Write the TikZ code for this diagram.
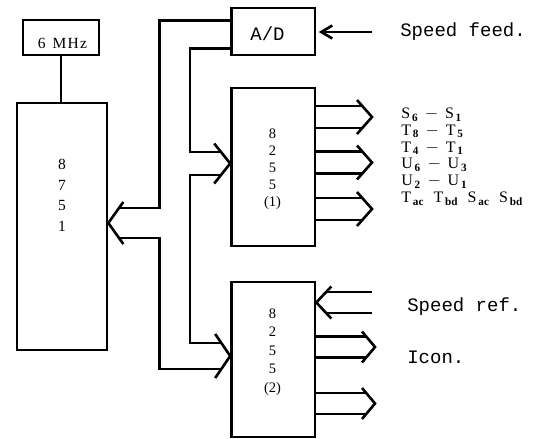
\documentclass[tikz,border=0pt]{standalone}
\usepackage{fontspec}
\setmainfont{Liberation Serif}
\newfontfamily\tyfont{Liberation Mono}
\usetikzlibrary{calc}
\begin{document}
\begin{tikzpicture}[x=1pt,y=-1pt,line width=2.6pt,line join=miter,
  box/.style={draw,rectangle,inner sep=0pt,minimum width=83.5pt},
  lbl/.style={inner sep=0pt},
  tt/.style={inner sep=0pt,anchor=west,font=\tyfont\fontsize{19}{22}\selectfont},
  sig/.style={anchor=base west,inner sep=0pt,font=\fontsize{16}{18}\selectfont}]
\useasboundingbox (0,0) rectangle (544,439);

% blocks
\node[box,minimum width=76pt,minimum height=35pt] (osc) at (61,37.5) {};
\node[lbl,font=\fontsize{15.5}{18}\selectfont] (osctxt) at (62.5,43) {6\hspace{7pt}M\kern1.2pt H\kern1.2pt z};
\node[box,minimum width=90pt,minimum height=247pt] (mcu) at (62,226.5) {};
\node[lbl,align=center,font=\fontsize{15.5}{20.5}\selectfont] (mcutxt) at (62,195.5) {8\\7\\5\\1};
\node[box,minimum height=47pt] (ad) at (273.25,31.5) {};
\node[lbl,font=\tyfont\fontsize{19}{22}\selectfont] (adtxt) at (267.5,34) {A/D};
\node[box,minimum height=158pt] (ppi1) at (273.25,167) {};
\node[lbl,align=center,font=\fontsize{14.5}{17}\selectfont] (ppi1txt) at (272.5,169) {8\\2\\5\\5\\(1)};
\node[box,minimum height=155pt] (ppi2) at (273.25,359.5) {};
\node[lbl,align=center,font=\fontsize{14.5}{18.5}\selectfont] (ppi2txt) at (272.5,352) {8\\2\\5\\5\\(2)};

% clock
\draw (osc.south) -- (osc.south |- mcu.north);

% bus
\coordinate (adA) at ($(ad.north west)+(0,14)$);
\coordinate (adB) at ($(ad.south west)+(0,-8)$);
\coordinate (tm) at ($(mcu.east)+(0,-3.5)$);
\coordinate (t1) at ($(ppi1.west)+(0,-3.5)$);
\coordinate (t2) at ($(ppi2.west)+(0,-3.5)$);
\draw (adA) -| (159.5,208) -- ($(tm)+(10.7,-15)$);
\draw ($(tm)+(10.7,15)$) -| (159.5,369) -- ($(t2)+(-8.9,13)$);
\draw (adB) -| (190,152) -- ($(t1)+(-9.2,-11.5)$);
\draw ($(t1)+(-9.2,11.5)$) -| (190,343) -- ($(t2)+(-8.9,-13)$);
\draw ($(tm)+(15,-21)$) -- (tm) -- ($(tm)+(15,21)$);
\draw ($(t1)+(-16,-20)$) -- (t1) -- ($(t1)+(-16,20)$);
\draw ($(t2)+(-15,-22)$) -- (t2) -- ($(t2)+(-15,22)$);

% speed feed
\node[tt] (sftxt) at (399,32) {Speed feed.};
\coordinate (sf) at (372,32);
\coordinate (sftip) at ($(ad.east|-sf)+(5,0)$);
\draw (sf) -- (sftip);
\draw ($(sftip)+(11,-6.5)$) -- (sftip) -- ($(sftip)+(11,6.5)$);

% outputs of 8255 (1)
\foreach \yc/\nm in {117/a,162.5/b,209/c} {
  \coordinate (tip\nm) at (372,\yc);
  \draw ($(ppi1.east|-tip\nm)+(0,-11)$) -- ($(tip\nm)+(-9.7,-11)$)
        ($(ppi1.east|-tip\nm)+(0,11)$) -- ($(tip\nm)+(-9.7,11)$);
  \draw ($(tip\nm)+(-15,-17)$) -- (tip\nm) -- ($(tip\nm)+(-15,17)$);
}

% signal names
\node[sig] (s1) at (400,118.5) {$\mathrm{S}_{\,\mathbf{6}}\,-\,\mathrm{S}_{\,\mathbf{1}}$};
\node[sig] (s2) at (400,135.3) {$\mathrm{T}_{\,\mathbf{8}}\,-\,\mathrm{T}_{\,\mathbf{5}}$};
\node[sig] (s3) at (400,152.1) {$\mathrm{T}_{\,\mathbf{4}}\,-\,\mathrm{T}_{\,\mathbf{1}}$};
\node[sig] (s4) at (400,168.9) {$\mathrm{U}_{\,\mathbf{6}}\,-\,\mathrm{U}_{\,\mathbf{3}}$};
\node[sig] (s5) at (400,185.7) {$\mathrm{U}_{\,\mathbf{2}}\,-\,\mathrm{U}_{\,\mathbf{1}}$};
\node[sig] (s6) at (400,202.5) {$\mathrm{T}_{\,\mathbf{ac}}\;\;\mathrm{T}_{\,\mathbf{bd}}\;\;\mathrm{S}_{\,\mathbf{ac}}\;\;\mathrm{S}_{\,\mathbf{bd}}$};

% speed ref input
\coordinate (sr) at (372,302.5);
\coordinate (srtip) at (ppi2.east|-sr);
\draw ($(sr)+(0,-10.5)$) -- ($(srtip)+(9.8,-10.5)$)
      ($(sr)+(0,10.5)$) -- ($(srtip)+(9.8,10.5)$);
\draw ($(srtip)+(15,-16)$) -- (srtip) -- ($(srtip)+(15,16)$);
\node[tt] (srtxt) at (406,307) {Speed ref.};

% outputs of 8255 (2)
\foreach \yc/\nm in {347/d,403.5/e} {
  \coordinate (tip\nm) at (375,\yc);
  \draw ($(ppi2.east|-tip\nm)+(0,-10.5)$) -- ($(tip\nm)+(-8.8,-10.5)$)
        ($(ppi2.east|-tip\nm)+(0,10.5)$) -- ($(tip\nm)+(-8.8,10.5)$);
  \draw ($(tip\nm)+(-13,-15.5)$) -- (tip\nm) -- ($(tip\nm)+(-13,15.5)$);
}
\node[tt] (icontxt) at (406,357) {Icon.};
\end{tikzpicture}
\end{document}
